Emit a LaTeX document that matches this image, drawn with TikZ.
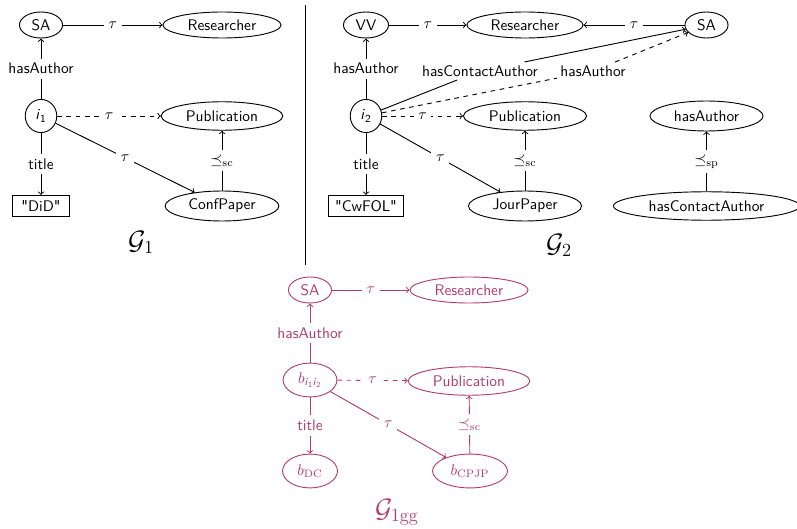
\documentclass[tikz,border=0pt]{standalone}
\usepackage{amsmath}
\usetikzlibrary{shapes.geometric}
\definecolor{ggcol}{RGB}{178,60,108}
\begin{document}
\begin{tikzpicture}[x=0.65pt,y=-0.65pt,font=\sffamily,line width=0.6pt,
  ell/.style={draw,ellipse,inner sep=0pt},
  topell/.style={ell,minimum height=16.9pt},
  midell/.style={ell,minimum height=18.5pt},
  box/.style={draw,rectangle,inner sep=2pt,minimum height=13.8pt},
  inst/.style={ell,minimum width=20.5pt,minimum height=21.5pt},
  bnode/.style={ell,minimum height=22pt},
  lbl/.style={fill=white,inner sep=3pt},
  arr/.style={->},
  dsh/.style={->,dashed},
  title/.style={font=\LARGE}]
\useasboundingbox (0,0) rectangle (797,529);

% ---------- G1 ----------
\node[topell,minimum width=28pt] (sa1) at (41,25) {SA};
\node[topell,minimum width=76.7pt] (res1) at (222,25) {Researcher};
\node[inst] (i1) at (41,116) {$\textsf{\textit{i}}_{\textsf{1}}$};
\node[midell,minimum width=79pt] (pub1) at (222,116) {Publication};
\node[box,minimum width=37pt] (did) at (41,206) {\textquotedbl DiD\textquotedbl};
\node[midell,minimum width=74pt,minimum height=19.5pt] (conf) at (222,206) {ConfPaper};
\node[title] (g1) at (141,242) {$\mathcal{G}_1$};

\draw[arr] (i1) -- node[lbl]{hasAuthor} (sa1);
\draw[arr] (sa1) -- node[lbl]{$\tau$} (res1);
\draw[dsh] (i1) -- node[lbl]{$\tau$} (pub1);
\draw[arr] (i1) -- node[lbl]{$\tau$} (conf);
\draw[arr] (i1) -- node[lbl]{title} (did);
\draw[arr] (conf) -- node[lbl]{$\preceq_{\mathrm{sc}}$} (pub1);

% separator
\coordinate (septop) at (305,5);
\coordinate (sepbot) at (305,265);
\draw (septop) -- (sepbot);

% ---------- G2 ----------
\node[topell,minimum width=29.3pt] (vv) at (366,25) {VV};
\node[topell,minimum width=75.5pt] (res2) at (525,25) {Researcher};
\node[topell,minimum width=28pt] (sa2) at (706.5,25) {SA};
\node[inst] (i2) at (366,116) {$\textsf{\textit{i}}_{\textsf{2}}$};
\node[midell,minimum width=80pt] (pub2) at (525,116) {Publication};
\node[midell,minimum width=73.5pt,minimum height=19.5pt] (hasa) at (706.5,116) {hasAuthor};
\node[box,minimum width=48.5pt] (cwfol) at (366,206) {\textquotedbl CwFOL\textquotedbl};
\node[midell,minimum width=73.5pt,minimum height=19.5pt] (jour) at (525,206) {JourPaper};
\node[midell,minimum width=121pt] (hca) at (706.5,206) {hasContactAuthor};
\node[title] (g2) at (559,245) {$\mathcal{G}_2$};
\node[inner sep=2pt] (lhca) at (480,71) {hasContactAuthor};
\node[inner sep=2pt] (lha) at (593,71) {hasAuthor};

\draw[arr] (i2) -- node[lbl]{hasAuthor} (vv);
\draw[arr] (vv) -- node[lbl]{$\tau$} (res2);
\draw[arr] (sa2) -- node[lbl]{$\tau$} (res2);
\draw (i2) -- (lhca);
\draw[arr] (lhca) -- (sa2);
\draw[dashed] (i2) -- (lha);
\draw[dsh] (lha) -- (sa2);
\draw[dsh] (i2) -- node[lbl]{$\tau$} (pub2);
\draw[arr] (i2) -- node[lbl]{$\tau$} (jour);
\draw[arr] (i2) -- node[lbl]{title} (cwfol);
\draw[arr] (jour) -- node[lbl]{$\preceq_{\mathrm{sc}}$} (pub2);
\draw[arr] (hca) -- node[lbl]{$\preceq_{\mathrm{sp}}$} (hasa);

% ---------- G1gg ----------
\begin{scope}[color=ggcol]
\node[topell,minimum width=28pt] (sa3) at (310,290) {SA};
\node[topell,minimum width=76.7pt] (res3) at (469,290) {Researcher};
\node[bnode,minimum width=35pt] (b12) at (310,380)
  {$b_{\textsf{\textit{i}}_{\textsf{1}}\textsf{\textit{i}}_{\textsf{2}}}$};
\node[midell,minimum width=79pt] (pub3) at (469,381) {Publication};
\node[bnode,minimum width=35.7pt] (bdc) at (310,471) {$b_{\mathrm{DC}}$};
\node[bnode,minimum width=48.7pt] (bcpjp) at (470,471) {$b_{\mathrm{CPJP}}$};
\node[title] (g3) at (397,512) {$\mathcal{G}_{\mathrm{1gg}}$};

\draw[arr] (b12) -- node[lbl]{hasAuthor} (sa3);
\draw[arr] (sa3) -- node[lbl]{$\tau$} (res3);
\draw[dsh] (b12) -- node[lbl]{$\tau$} (pub3);
\draw[arr] (b12) -- node[lbl]{$\tau$} (bcpjp);
\draw[arr] (b12) -- node[lbl]{title} (bdc);
\draw[arr] (bcpjp) -- node[lbl]{$\preceq_{\mathrm{sc}}$} (pub3);
\end{scope}
\end{tikzpicture}
\end{document}
